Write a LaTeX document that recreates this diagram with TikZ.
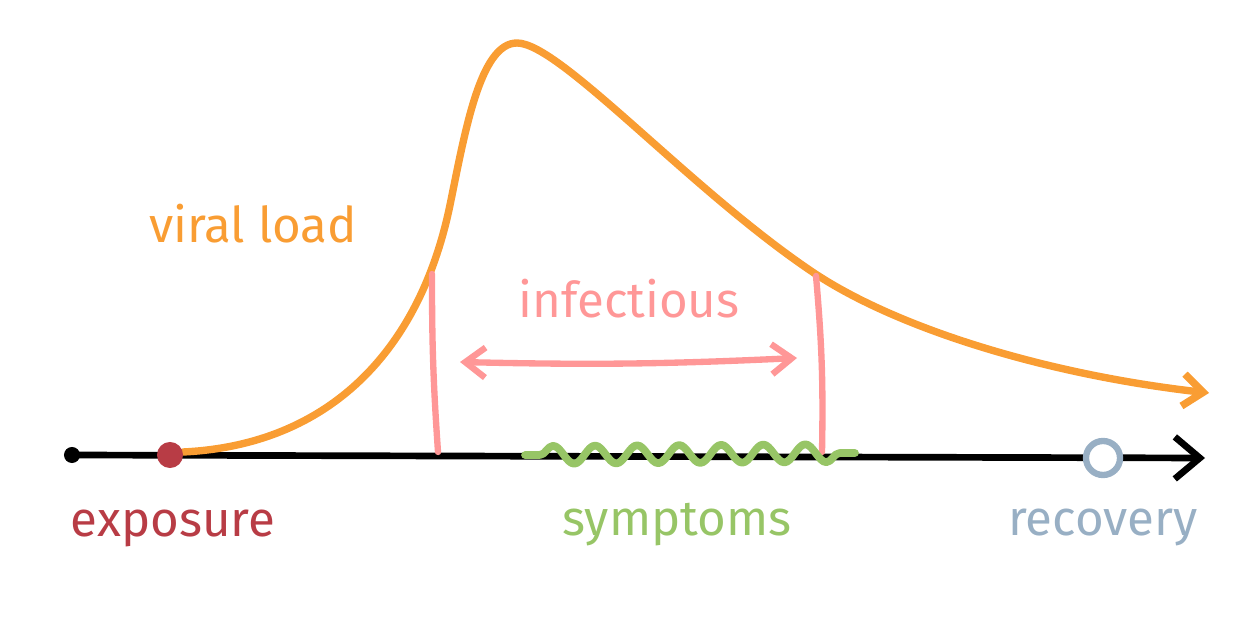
\documentclass[tikz,border=0pt]{standalone}
\usepackage{fontspec}
\setmainfont{Fira Sans}
\usetikzlibrary{arrows.meta,decorations.pathmorphing}
\definecolor{loadcol}{HTML}{F99D33}
\definecolor{expcol}{HTML}{B83C45}
\definecolor{infcol}{HTML}{FF9797}
\definecolor{symcol}{HTML}{97C566}
\definecolor{reccol}{HTML}{98AFC4}

\begin{document}
\begin{tikzpicture}[x=0.01cm,y=-0.01cm,line cap=round,line join=round,
  ax/.style={line width=1.9pt,black},
  load/.style={line width=2.1pt,loadcol},
  inf/.style={line width=1.8pt,infcol},
  sym/.style={line width=2.2pt,symcol},
  lbl/.style={font=\fontsize{14pt}{17pt}\selectfont,anchor=base}]
  \useasboundingbox (0,0) rectangle (1240,622);
  % time axis
  \coordinate (S) at (72,455);
  \coordinate (E) at (1205,458);
  \draw[ax,-{Straight Barb[length=2.5mm,width=4.2mm]}] (S) -- (E);
  \fill (S) circle (0.08cm);
  % viral load curve
  \coordinate (V0) at (183,452);
  \coordinate (V1) at (450,205);
  \coordinate (peak) at (517,43);
  \coordinate (V2) at (814,273);
  \coordinate (V3) at (1209,393);
  \draw[load,-{Straight Barb[length=2mm,width=3.2mm]}]
    (V0) .. controls (330,445) and (420,350) .. (V1)
         .. controls (465,132) and (480,43) .. (peak)
         .. controls (560,43) and (690,190) .. (V2)
         .. controls (900,330) and (1050,375) .. (V3);
  \node[lbl,loadcol] (load) at (253,243) {viral load};
  % infectious period
  \coordinate (I1) at (432,274);
  \coordinate (I2) at (438,452);
  \coordinate (J1) at (816,276);
  \coordinate (J2) at (822,452);
  \draw[inf] (I1) to[bend right=2] (I2);
  \draw[inf] (J1) to[bend left=3] (J2);
  \coordinate (A1) at (460,362);
  \coordinate (A2) at (797,358);
  \draw[inf,{Straight Barb[length=2mm,width=3mm]}-{Straight Barb[length=2mm,width=3mm]}]
    (A1) to[bend right=2] (A2);
  \node[lbl,infcol] (infectious) at (629,318) {infectious};
  % symptoms
  \coordinate (Y1) at (525,455);
  \coordinate (Y2) at (855,453);
  \draw[sym,decorate,decoration={snake,segment length=0.42cm,amplitude=0.09cm,
    pre length=0.15cm,post length=0.15cm}] (Y1) -- (Y2);
  \node[lbl,symcol] (symptoms) at (677,535) {symptoms};
  % exposure and recovery
  \fill[expcol] (170,455) circle (0.13cm) coordinate (exp);
  \node[lbl,expcol] (exposure) at (173,537) {exposure};
  \draw[line width=1.8pt,reccol,fill=white] (1103,458) circle (0.17cm) coordinate (rec);
  \node[lbl,reccol] (recovery) at (1103,535) {recovery};
\end{tikzpicture}
\end{document}
